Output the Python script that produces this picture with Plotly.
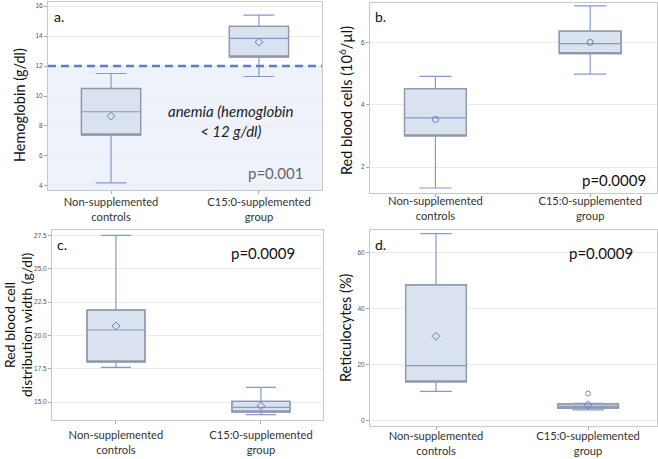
import plotly.graph_objects as go
from plotly.subplots import make_subplots

groups = ["Non-supplemented<br>controls", "C15:0-supplemented<br>group"]

# a. hemoglobin (g/dl)
hb_low = [4.2, 11.3]
hb_q1 = [7.4, 12.6]
hb_med = [8.95, 13.85]
hb_q3 = [10.5, 14.65]
hb_high = [11.5, 15.4]
hb_mean = [8.65, 13.6]
anemia_cut = 12

# b. red blood cells (10^6/ul)
rbc_low = [1.33, 4.98]
rbc_q1 = [3.0, 5.64]
rbc_med = [3.58, 5.96]
rbc_q3 = [4.52, 6.36]
rbc_high = [4.91, 7.17]
rbc_mean = [3.53, 6.0]

# c. red blood cell distribution width
rdw_low = [17.6, 14.05]
rdw_q1 = [18.0, 14.25]
rdw_med = [20.4, 14.6]
rdw_q3 = [21.9, 15.05]
rdw_high = [27.5, 16.1]
rdw_mean = [20.7, 14.7]

# d. reticulocytes (%)
ret_low = [10.5, 3.9]
ret_q1 = [13.9, 4.5]
ret_med = [19.7, 5.2]
ret_q3 = [48.6, 6.0]
ret_high = [66.9, 6.2]
ret_mean = [30.2, 5.7]
ret_outlier_x = [groups[1]]
ret_outlier = [9.7]

W, H = 658, 459
FILL = "#dae2ef"
EDGE = "#9099a8"
BLUE = "#8599cf"
MEAN = "#6480c6"

fig = make_subplots(rows=2, cols=2)


def px(x):
    return x / W


def py(y):
    return 1 - y / H


panels = [
    (1, 1, hb_low, hb_q1, hb_med, hb_q3, hb_high, hb_mean, "diamond-open"),
    (1, 2, rbc_low, rbc_q1, rbc_med, rbc_q3, rbc_high, rbc_mean, "circle-open"),
    (2, 1, rdw_low, rdw_q1, rdw_med, rdw_q3, rdw_high, rdw_mean, "diamond-open"),
    (2, 2, ret_low, ret_q1, ret_med, ret_q3, ret_high, ret_mean, "diamond-open"),
]

for row, col, lo, q1, med, q3, hi, mean, sym in panels:
    # whiskers, median and box in blue
    fig.add_trace(go.Box(
        x=groups, q1=q1, median=med, q3=q3, lowerfence=lo, upperfence=hi,
        width=0.4, whiskerwidth=0.52, fillcolor=FILL,
        line=dict(color=BLUE, width=1.2), showlegend=False, hoverinfo="skip",
    ), row=row, col=col)
    # grey outline of the box
    fig.add_trace(go.Box(
        x=groups, q1=q1, median=q1, q3=q3, lowerfence=q1, upperfence=q3,
        width=0.4, whiskerwidth=0.0, fillcolor="rgba(0,0,0,0)",
        line=dict(color=EDGE, width=1.3), showlegend=False, hoverinfo="skip",
    ), row=row, col=col)
    fig.add_trace(go.Scatter(
        x=groups, y=mean, mode="markers",
        marker=dict(symbol=sym, size=6, color=MEAN, line=dict(width=1, color=MEAN)),
        showlegend=False, hoverinfo="skip",
    ), row=row, col=col)

fig.add_trace(go.Scatter(
    x=ret_outlier_x, y=ret_outlier, mode="markers",
    marker=dict(symbol="circle-open", size=5, color="#8a8f99", line=dict(width=1)),
    showlegend=False, hoverinfo="skip",
), row=2, col=2)

domains = {
    1: ([px(48), px(322)], [py(190), py(2)]),
    2: ([px(370), px(657)], [py(193), py(2.5)]),
    3: ([px(52), px(323)], [py(420), py(230)]),
    4: ([px(370), px(657)], [py(426), py(230)]),
}
xranges = {1: [-0.426, 1.426], 2: [-0.423, 1.432], 3: [-0.441, 1.428], 4: [-0.434, 1.453]}
yranges = {1: [3.73, 16.27], 2: [1.17, 7.28], 3: [13.65, 27.9], 4: [-1.9, 68.2]}
yticks = {
    1: [4, 6, 8, 10, 12, 14, 16],
    2: [2, 4, 6],
    3: [15, 17.5, 20, 22.5, 25, 27.5],
    4: [0, 20, 40, 60],
}
label_shift = {1: -1, 2: -5, 3: 2, 4: -3}

for i in range(1, 5):
    sx = "" if i == 1 else str(i)
    fig.layout["xaxis" + sx].update(
        domain=domains[i][0], range=xranges[i], type="category", automargin=False,
        showline=True, mirror=True, linecolor="#c8c8c8", linewidth=1,
        ticks="outside", ticklen=3, tickcolor="#aaaaaa", showgrid=False,
        ticklabelstandoff=label_shift[i],
        tickfont=dict(family="Lato", size=11.2, color="#333333"),
    )
    fig.layout["yaxis" + sx].update(
        domain=domains[i][1], range=yranges[i], tickvals=yticks[i], automargin=False,
        tickformat=".1f" if i == 3 else "d",
        showline=True, mirror=True, linecolor="#c8c8c8", linewidth=1,
        ticks="outside", ticklen=3, tickcolor="#aaaaaa",
        showgrid=True, gridcolor="#ececec", zeroline=False,
        tickfont=dict(family="Arial", size=6.5, color="#555555"),
    )

# anemia zone
fig.add_shape(type="rect", xref="x domain", yref="y", x0=0, x1=1,
              y0=yranges[1][0], y1=anemia_cut, fillcolor="#eef2fb",
              line=dict(width=0), layer="below")
fig.add_shape(type="line", xref="x domain", yref="y", x0=0, x1=1,
              y0=anemia_cut, y1=anemia_cut,
              line=dict(color="#5b7fc7", width=2.5, dash="8px,5px"))

ann = []
ytitles = [
    ("Hemoglobin (g/dl)", 20, 105, 14.5),
    ("Red blood cells (10<sup>6</sup>/µl)", 346, 101, 14.5),
    ("Red blood cell", 9, 325, 14),
    ("distribution width (g/dl)", 26, 325, 14),
    ("Reticulocytes (%)", 345, 328, 14.5),
]
for text, x, y, s in ytitles:
    ann.append(dict(text=text, x=px(x), y=py(y), xref="paper", yref="paper",
                    xanchor="center", yanchor="middle",
                    textangle=-90, showarrow=False,
                    font=dict(family="Lato", size=s, color="#111111")))

labels = [("a.", 59, 17), ("b.", 381, 17), ("c.", 62, 245), ("d.", 381, 245)]
for text, x, y in labels:
    ann.append(dict(text=text, x=px(x), y=py(y), xref="paper", yref="paper",
                    xanchor="center", yanchor="middle",
                    showarrow=False, font=dict(family="Lato", size=14, color="#111111")))

pvals = [
    ("p=0.001", 275, 173, "#666666"),
    ("p=0.0009", 614, 180, "#111111"),
    ("p=0.0009", 263, 253, "#111111"),
    ("p=0.0009", 601, 253, "#111111"),
]
for text, x, y, c in pvals:
    ann.append(dict(text=text, x=px(x), y=py(y), xref="paper", yref="paper",
                    xanchor="center", yanchor="middle",
                    showarrow=False, font=dict(family="Lato", size=15, color=c)))

ann.append(dict(text="<i>anemia (hemoglobin<br>< 12 g/dl)</i>", x=px(231), y=py(121),
                xref="paper", yref="paper", xanchor="center", yanchor="middle",
                showarrow=False,
                font=dict(family="Lato", size=15, color="#222222")))

fig.update_layout(
    width=W, height=H, margin=dict(l=0, r=0, t=0, b=0),
    paper_bgcolor="white", plot_bgcolor="white",
    boxmode="overlay", annotations=ann,
)

# the page's default body margin would push the figure 8px off
fig.write_html("out.html", config={"displayModeBar": False},
               post_script="document.body.style.margin='0';")
